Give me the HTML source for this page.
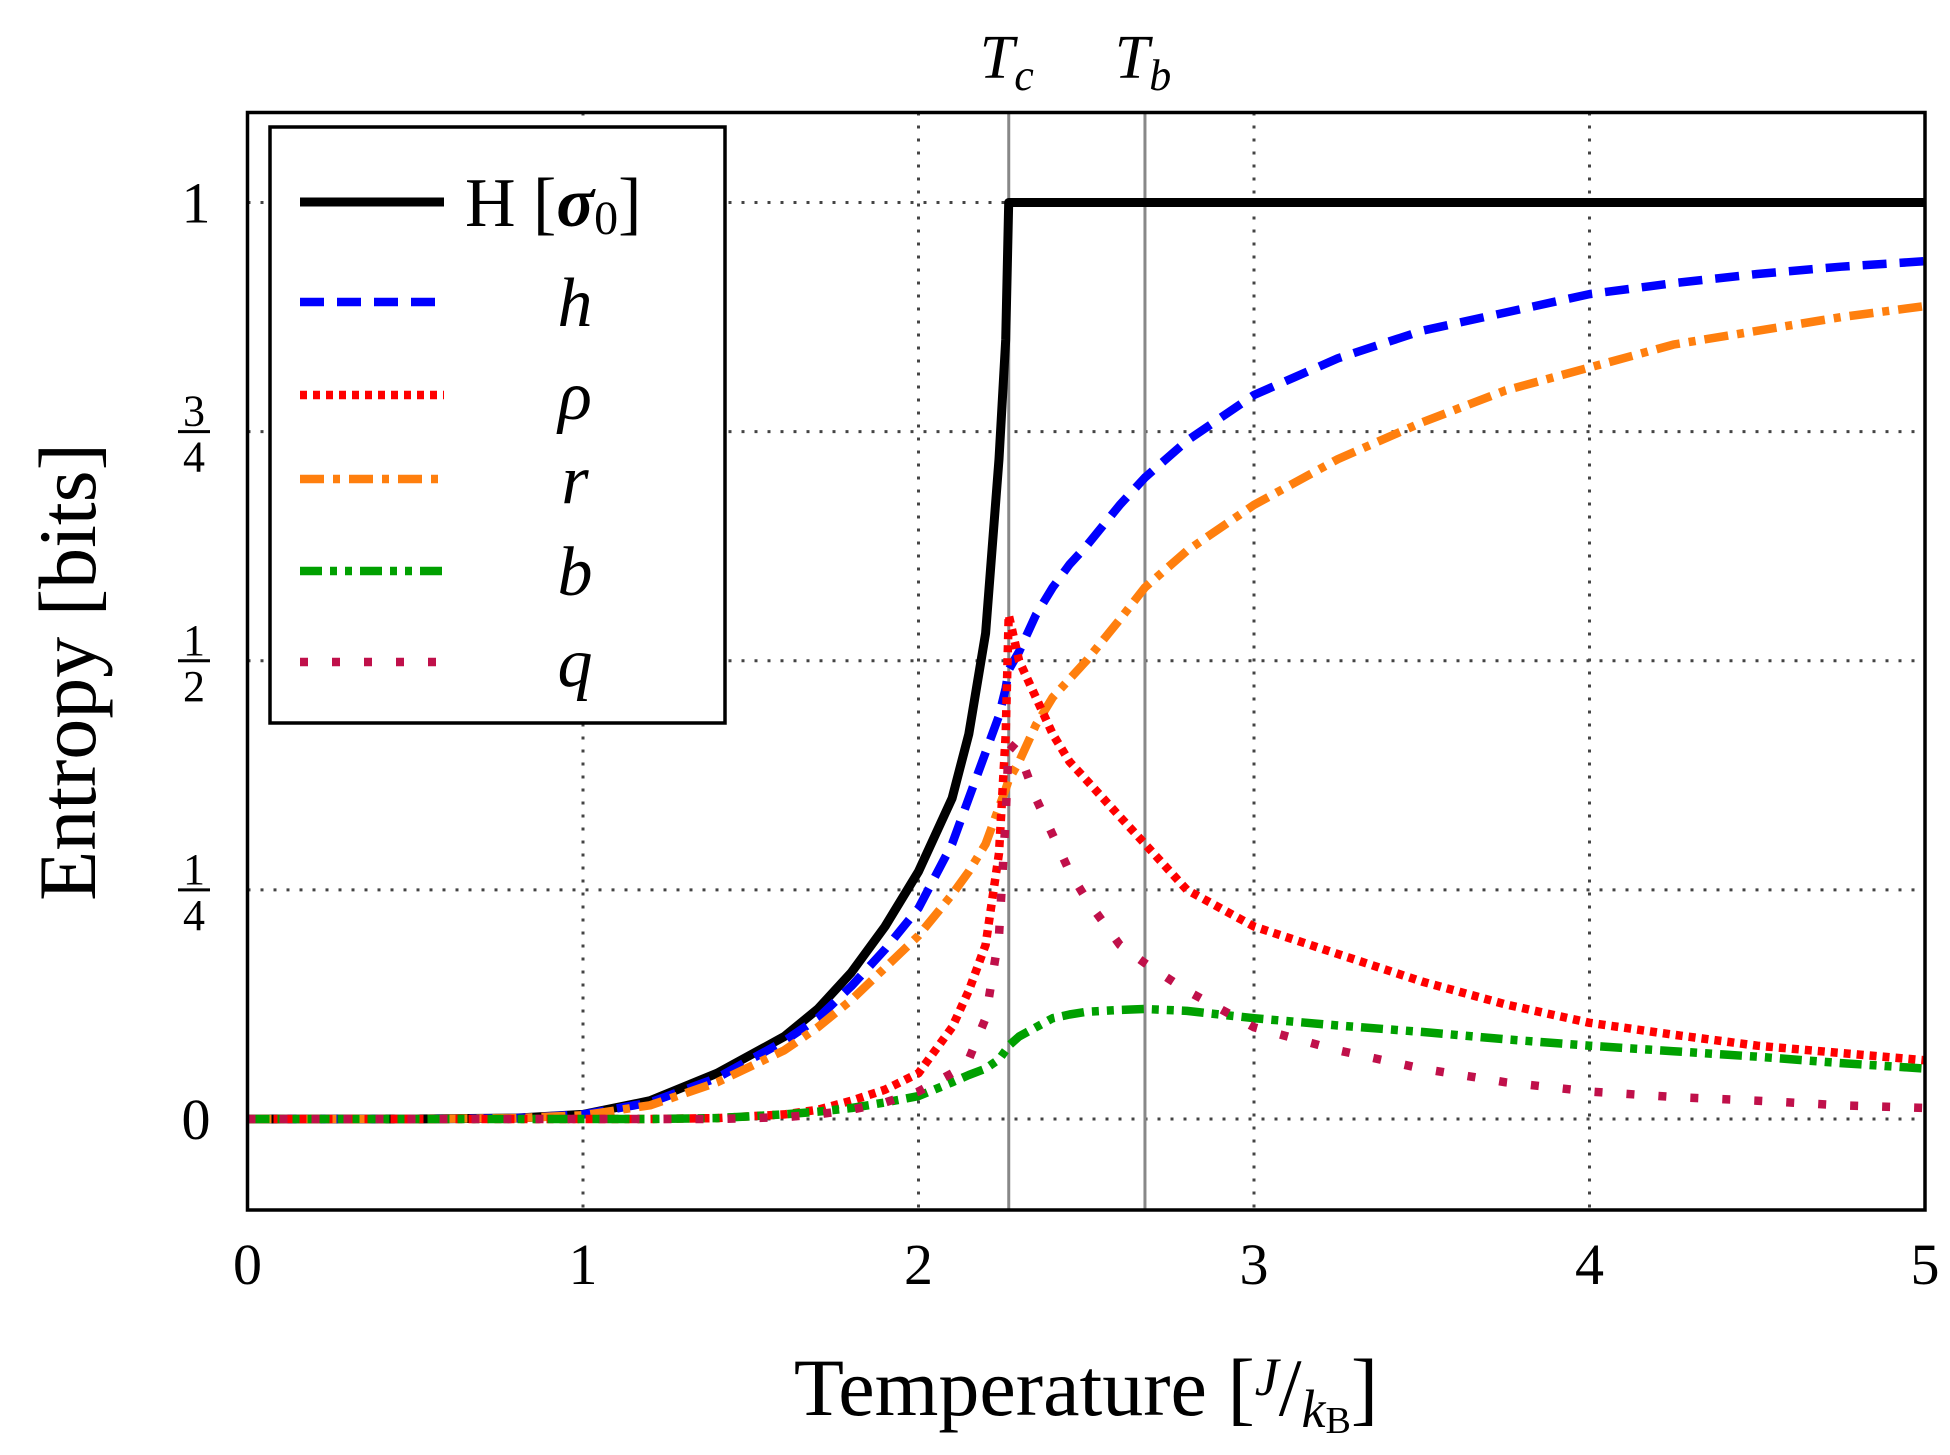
<!DOCTYPE html>
<html><head><meta charset="utf-8">
<style>
html,body{margin:0;padding:0;background:#fff;}
svg{display:block;font-family:"Liberation Serif",serif;}
</style></head>
<body>
<svg id="chart" width="1950" height="1455" viewBox="0 0 1950 1455" xmlns="http://www.w3.org/2000/svg"></svg>
<script>
const temps = [0,0.5,0.8,1,1.2,1.4,1.6,1.7,1.8,1.9,2.0,2.1,2.15,2.2,2.24,2.26,2.269,2.3,2.35,2.4,2.45,2.5,2.6,2.675,2.8,3,3.25,3.5,3.75,4,4.25,4.5,4.75,5];
const seriesH   = [0,0,0.001,0.005,0.02,0.05,0.09,0.12,0.16,0.21,0.27,0.35,0.42,0.53,0.72,0.85,1,1,1,1,1,1,1,1,1,1,1,1,1,1,1,1,1,1];
const seriesh   = [0,0,0.001,0.005,0.018,0.045,0.085,0.11,0.145,0.185,0.23,0.30,0.35,0.40,0.44,0.47,0.49,0.51,0.55,0.58,0.605,0.625,0.67,0.70,0.74,0.79,0.83,0.86,0.88,0.9,0.912,0.922,0.93,0.936];
const seriesR   = [0,0,0.001,0.004,0.015,0.04,0.075,0.1,0.13,0.165,0.2,0.245,0.27,0.30,0.34,0.36,0.37,0.39,0.43,0.46,0.48,0.50,0.545,0.58,0.62,0.67,0.72,0.76,0.795,0.82,0.845,0.86,0.875,0.887];
const seriesRho = [0,0,0,0,0,0.001,0.005,0.01,0.02,0.032,0.05,0.10,0.14,0.19,0.29,0.42,0.55,0.50,0.46,0.42,0.39,0.37,0.33,0.30,0.25,0.21,0.18,0.15,0.125,0.105,0.092,0.08,0.072,0.064];
const seriesB   = [0,0,0,0,0,0.001,0.005,0.008,0.012,0.018,0.025,0.04,0.048,0.055,0.065,0.075,0.08,0.09,0.10,0.11,0.114,0.117,0.119,0.12,0.118,0.11,0.102,0.095,0.087,0.08,0.074,0.068,0.061,0.055];
const seriesQ   = [0,0,0,0,0,0,0.002,0.005,0.01,0.018,0.03,0.05,0.065,0.11,0.20,0.33,0.41,0.40,0.35,0.31,0.27,0.24,0.19,0.17,0.14,0.10,0.075,0.055,0.04,0.03,0.024,0.02,0.015,0.012];
const xTicks = [0,1,2,3,4,5];
const yTicks = [0,0.25,0.5,0.75,1];
const yTickLabels = ["0",["1","4"],["1","2"],["3","4"],"1"];
const criticalTemps = [2.269,2.675];
const criticalLabels = ["c","b"];

const NS="http://www.w3.org/2000/svg";
const svg=document.getElementById('chart');
const L=247.5,R=1925,T=112.5,B=1210;
const xs=v=>L+(v-0)/5*(R-L);
const ys=v=>1119-v*916.5;
function mk(tag,attrs,parent){const e=document.createElementNS(NS,tag);for(const k in attrs)e.setAttribute(k,attrs[k]);(parent||svg).appendChild(e);return e;}

xTicks.forEach(t=>{if(t>0&&t<5){const g=mk('line',{x1:xs(t),x2:xs(t),y1:T,y2:B,stroke:'#444','stroke-width':3,'stroke-dasharray':'3 10'});

}});
yTicks.forEach(t=>{const g=mk('line',{x1:L,x2:R,y1:ys(t),y2:ys(t),stroke:'#444','stroke-width':3,'stroke-dasharray':'3 10'});

});
criticalTemps.forEach((t,i)=>{const l=mk('line',{x1:xs(t),x2:xs(t),y1:T,y2:B,stroke:'#888','stroke-width':3});


const tx=mk('text',{x:xs(t)-2,y:78,'text-anchor':'middle','font-size':62,'font-style':'italic'});


tx.innerHTML='T<tspan font-size="44" dy="12">'+criticalLabels[i]+'</tspan>';});

function path(arr){return temps.map((t,i)=>(i?'L':'M')+xs(t).toFixed(1)+','+ys(arr[i]).toFixed(1)).join(' ');}
const styles=[
 {d:seriesH,c:'#000',dash:'',name:'series-H'},
 {d:seriesh,c:'#0000ff',dash:'24 13',name:'series-h'},
 {d:seriesR,c:'#ff7f0e',dash:'24 9 7 9',name:'series-r'},
 {d:seriesB,c:'#00a000',dash:'22 8 7 8 7 8',name:'series-b'},
 {d:seriesQ,c:'#c0104a',dash:'8 24',name:'series-q'},
 {d:seriesRho,c:'#ff0000',dash:'7 6',name:'series-rho'}
];
const clip=mk('clipPath',{id:'cp'});mk('rect',{x:L,y:T,width:R-L,height:B-T},clip);
[styles[0],styles[1],styles[2],styles[5],styles[3],styles[4]].forEach(s=>{
 const p=mk('path',{d:path(s.d),fill:'none',stroke:s.c,'stroke-width':s.name==='series-H'?9:8.5,'stroke-dasharray':s.dash,'clip-path':'url(#cp)','stroke-linejoin':'round'});
 
 
});
const fr=mk('rect',{x:L,y:T,width:R-L,height:B-T,fill:'none',stroke:'#000','stroke-width':3.5});


xTicks.forEach(t=>{const tx=mk('text',{x:xs(t),y:1284,'text-anchor':'middle','font-size':58});tx.textContent=t;

});
yTickLabels.forEach((lab,i)=>{const y=ys(yTicks[i]);
 if(typeof lab==='string'){const tx=mk('text',{x:196,y:y+20,'text-anchor':'middle','font-size':58});tx.textContent=lab;
 
 }
 else{const g=mk('g',{});
 
 
 mk('text',{x:194,y:y-6,'text-anchor':'middle','font-size':44},g).textContent=lab[0];
 mk('line',{x1:178,x2:210,y1:y,y2:y,stroke:'#000','stroke-width':3},g);
 mk('text',{x:194,y:y+40,'text-anchor':'middle','font-size':44},g).textContent=lab[1];}
});
const xt=mk('text',{x:1086,y:1415,'text-anchor':'middle','font-size':82});


xt.innerHTML='Temperature [<tspan font-style="italic" font-size="54" dy="-20">J</tspan><tspan dy="20">/</tspan><tspan font-style="italic" font-size="54" dy="12">k</tspan><tspan font-size="38" dy="6">B</tspan><tspan dy="-18">]</tspan>';
const yt=mk('text',{x:0,y:0,'text-anchor':'middle','font-size':82,transform:'translate(95,672) rotate(-90)'});


yt.textContent='Entropy [bits]';
const lg=mk('g',{});


mk('rect',{x:270,y:127,width:455,height:596,fill:'#fff',stroke:'#000','stroke-width':3.5},lg);
const legendItems=[[styles[0],202,'H [<tspan font-weight="bold" font-style="italic">σ</tspan><tspan font-size="48" dy="8">0</tspan><tspan dy="-8">]</tspan>',465,'start'],
 [styles[1],302,'h',575,'middle'],[styles[5],395,'ρ',575,'middle'],[styles[2],479,'r',575,'middle'],[styles[3],571,'b',575,'middle'],[styles[4],662,'q',575,'middle']];
legendItems.forEach(([s,y,lab,lx,anc])=>{const e=mk('g',{},lg);
 
 
 mk('line',{x1:300,x2:444,y1:y,y2:y,stroke:s.c,'stroke-width':s.name==='series-H'?9:8.5,'stroke-dasharray':s.dash},e);
 const t=mk('text',{x:lx,y:y+24,'text-anchor':anc,'font-size':70,'font-style':s.name==='series-H'?'normal':'italic'},e);t.innerHTML=lab;});
</script>
</body></html>
